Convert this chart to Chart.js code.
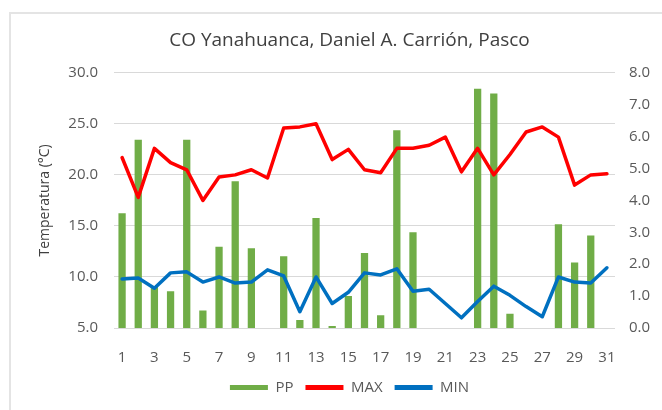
<!DOCTYPE html>
<html lang="es">
<head>
    <meta charset="UTF-8">
    <title>CO Yanahuanca, Daniel A. Carrión, Pasco</title>
    <script src="https://cdn.jsdelivr.net/npm/chart.js"></script>
    <style>
        body {
            margin: 0;
            padding: 0;
            background-color: #ffffff;
        }
        #frame {
            position: absolute;
            left: 9px;
            top: 12px;
            width: 700px;
            height: 450px;
            border-top: 2px solid #e4e4e4;
            border-left: 2px solid #e4e4e4;
        }
        #wrap {
            position: absolute;
            left: 0;
            top: 0;
            width: 662px;
            height: 410px;
        }
    </style>
</head>
<body>
    <div id="frame"></div>
    <div id="wrap"><canvas id="climaChart"></canvas></div>

    <script>
        // Días del mes
        const dias = ['1','2','3','4','5','6','7','8','9','10','11','12','13','14','15','16',
                      '17','18','19','20','21','22','23','24','25','26','27','28','29','30','31'];

        // Precipitación (eje derecho)
        const pp = [3.6, 5.9, 1.3, 1.15, 5.9, 0.55, 2.55, 4.6, 2.5, 0, 2.25, 0.25, 3.45, 0.06, 1.0, 2.35,
                    0.4, 6.2, 3.0, 0, 0, 0, 7.5, 7.35, 0.45, 0, 0, 3.25, 2.05, 2.9, 0];

        // Temperatura máxima (°C)
        const tmax = [21.7, 17.8, 22.6, 21.2, 20.5, 17.5, 19.8, 20.0, 20.5, 19.7, 24.6, 24.7, 25.0, 21.5, 22.5, 20.5,
                      20.2, 22.6, 22.6, 22.9, 23.7, 20.3, 22.6, 20.0, 22.0, 24.2, 24.7, 23.7, 19.0, 20.0, 20.1];

        // Temperatura mínima (°C)
        const tmin = [9.8, 9.9, 8.9, 10.4, 10.5, 9.5, 10.0, 9.4, 9.5, 10.7, 10.1, 6.6, 10.0, 7.4, 8.5, 10.4,
                      10.2, 10.8, 8.6, 8.8, 7.4, 6.0, 7.6, 9.1, 8.2, 7.1, 6.1, 10.0, 9.5, 9.4, 10.9];

        const colorPP = '#70ad47';
        const colorMax = '#ff0000';
        const colorMin = '#0070c0';
        const gris = '#595959';
        const fuente = "'Open Sans', sans-serif";

        const ctx = document.getElementById('climaChart').getContext('2d');

        new Chart(ctx, {
            type: 'bar',
            data: {
                labels: dias,
                datasets: [{
                    label: 'PP',
                    data: pp,
                    yAxisID: 'y1',
                    backgroundColor: colorPP,
                    barPercentage: 0.45,
                    categoryPercentage: 1.0,
                    order: 3
                }, {
                    label: 'MAX',
                    type: 'line',
                    data: tmax,
                    yAxisID: 'y',
                    borderColor: colorMax,
                    borderWidth: 3.5,
                    pointRadius: 0,
                    tension: 0,
                    borderJoinStyle: 'round',
                    borderCapStyle: 'round',
                    fill: false,
                    order: 1
                }, {
                    label: 'MIN',
                    type: 'line',
                    data: tmin,
                    yAxisID: 'y',
                    borderColor: colorMin,
                    borderWidth: 3.5,
                    pointRadius: 0,
                    tension: 0,
                    borderJoinStyle: 'round',
                    borderCapStyle: 'round',
                    fill: false,
                    order: 2
                }]
            },
            options: {
                responsive: true,
                maintainAspectRatio: false,
                animation: false,
                layout: {
                    padding: { left: 37, right: 0, top: 0, bottom: 5 }
                },
                scales: {
                    x: {
                        grid: { display: false },
                        border: { display: false },
                        ticks: {
                            color: gris,
                            font: { family: fuente, size: 15 },
                            autoSkip: false,
                            maxRotation: 0,
                            padding: 13,
                            callback: function (val, i) {
                                return i % 2 === 0 ? dias[i] : '';
                            }
                        },
                        afterFit: function (scale) { scale.height = 40; }
                    },
                    y: {
                        position: 'left',
                        min: 5,
                        max: 30,
                        ticks: {
                            stepSize: 5,
                            color: gris,
                            font: { family: fuente, size: 15 },
                            padding: 16,
                            callback: v => v.toFixed(1)
                        },
                        grid: { color: '#d9d9d9', lineWidth: 1, drawTicks: false },
                        border: { display: false },
                        title: {
                            display: true,
                            text: 'Temperatura (°C)',
                            color: '#404040',
                            font: { family: fuente, size: 14 },
                            padding: 0
                        },
                        afterFit: function (scale) { scale.width = 77; }
                    },
                    y1: {
                        position: 'right',
                        min: 0,
                        max: 8,
                        ticks: {
                            stepSize: 1,
                            color: gris,
                            font: { family: fuente, size: 15 },
                            padding: 14,
                            callback: v => v.toFixed(1)
                        },
                        grid: { display: false, drawTicks: false },
                        border: { display: false },
                        afterFit: function (scale) { scale.width = 47; }
                    }
                },
                plugins: {
                    title: {
                        display: true,
                        text: 'CO Yanahuanca, Daniel A. Carrión, Pasco',
                        color: '#404040',
                        font: { family: fuente, size: 19, weight: 'normal' },
                        padding: { top: 29, bottom: 21 }
                    },
                    legend: {
                        position: 'bottom',
                        labels: {
                            color: gris,
                            font: { family: fuente, size: 15 },
                            boxWidth: 38,
                            boxHeight: 5,
                            padding: 12,
                            generateLabels: function (chart) {
                                // PP primero, como en la leyenda original
                                return chart.data.datasets.map((ds, i) => ({
                                    text: ds.label,
                                    fillStyle: ds.type === 'line' ? ds.borderColor : ds.backgroundColor,
                                    strokeStyle: ds.type === 'line' ? ds.borderColor : ds.backgroundColor,
                                    lineWidth: 0,
                                    fontColor: gris,
                                    datasetIndex: i,
                                    hidden: false
                                }));
                            }
                        }
                    },
                    tooltip: { enabled: false }
                }
            }
        });
    </script>
</body>
</html>
